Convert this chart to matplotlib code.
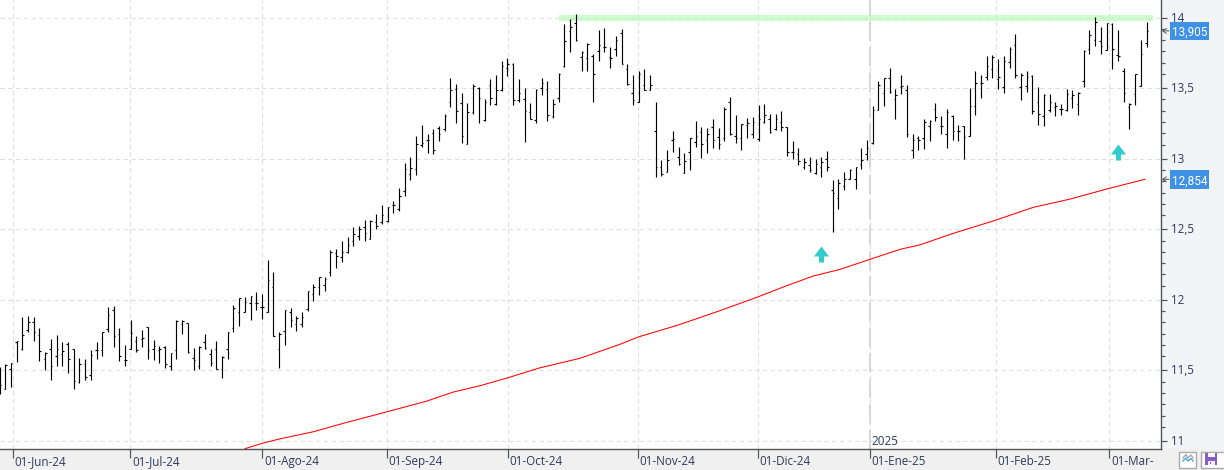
import matplotlib
matplotlib.use("Agg")
import matplotlib.pyplot as plt
from matplotlib.path import Path
from matplotlib.patches import Rectangle
from matplotlib.transforms import ScaledTranslation
import numpy as np

# Daily OHLC prices
highs = [11.524,
    11.545,11.554,11.712,11.877,11.889,11.877,11.802,11.630,11.724,11.748,
    11.701,11.701,11.653,11.590,11.583,11.642,11.705,11.776,11.953,11.960,
    11.802,11.684,11.859,11.743,11.788,11.811,11.719,11.670,11.672,11.627,
    11.859,11.859,11.837,11.660,11.677,11.759,11.653,11.712,11.606,11.776,
    11.965,12.012,12.017,12.031,12.059,12.042,12.285,12.200,11.776,11.925,
    11.943,11.889,11.917,12.065,12.112,12.164,12.160,12.356,12.361,12.420,
    12.448,12.519,12.526,12.569,12.566,12.609,12.675,12.661,12.703,12.796,
    12.973,13.015,13.164,13.242,13.178,13.212,13.235,13.320,13.569,13.526,
    13.462,13.398,13.531,13.505,13.420,13.561,13.590,13.689,13.710,13.680,
    13.561,13.498,13.398,13.491,13.569,13.552,13.420,13.609,13.956,13.992,
    14.022,13.760,13.817,13.743,13.909,13.928,13.793,13.869,13.921,13.673,
    13.590,13.618,13.637,13.595,13.405,12.994,13.065,13.193,13.086,13.037,
    13.150,13.264,13.221,13.216,13.278,13.214,13.368,13.434,13.313,13.249,
    13.285,13.292,13.377,13.384,13.318,13.320,13.335,13.223,13.122,13.077,
    13.008,13.015,12.999,13.015,13.058,12.852,12.859,12.909,12.926,12.944,
    13.077,13.129,13.370,13.547,13.573,13.639,13.491,13.590,13.519,13.176,
    13.160,13.283,13.271,13.396,13.299,13.353,13.306,13.240,13.233,13.498,
    13.618,13.590,13.725,13.736,13.703,13.729,13.793,13.881,13.609,13.618,
    13.590,13.505,13.455,13.460,13.405,13.387,13.491,13.486,13.469,13.772,
    13.909,14.001,13.930,13.963,13.961,13.909,13.642,13.396,13.602,13.838,
    13.966]
lows = [11.335,
    11.370,11.382,11.559,11.642,11.776,11.708,11.566,11.500,11.434,11.535,
    11.531,11.481,11.370,11.411,11.434,11.434,11.583,11.606,11.776,11.665,
    11.566,11.531,11.653,11.630,11.665,11.580,11.571,11.554,11.519,11.505,
    11.580,11.759,11.627,11.505,11.512,11.653,11.531,11.510,11.446,11.580,
    11.771,11.818,11.913,11.859,11.925,11.866,11.913,11.743,11.517,11.684,
    11.811,11.778,11.811,11.918,11.989,12.037,12.060,12.171,12.223,12.266,
    12.330,12.379,12.427,12.415,12.429,12.500,12.538,12.550,12.613,12.628,
    12.739,12.848,12.888,13.082,13.039,13.030,13.124,13.195,13.365,13.252,
    13.110,13.103,13.320,13.252,13.266,13.379,13.379,13.483,13.585,13.379,
    13.403,13.117,13.283,13.252,13.448,13.266,13.287,13.405,13.649,13.755,
    13.833,13.621,13.621,13.401,13.691,13.755,13.642,13.727,13.668,13.519,
    13.377,13.401,13.486,13.486,12.869,12.876,12.904,13.046,12.952,12.897,
    12.923,13.082,13.008,13.037,13.074,13.067,13.122,13.171,13.112,13.060,
    13.145,13.145,13.124,13.252,13.181,13.200,13.195,13.022,12.996,12.954,
    12.928,12.904,12.892,12.869,12.911,12.479,12.642,12.781,12.855,12.784,
    12.926,12.989,13.103,13.344,13.370,13.462,13.278,13.457,13.155,13.008,
    13.065,13.072,13.122,13.264,13.178,13.079,13.131,13.126,13.001,13.160,
    13.313,13.427,13.557,13.569,13.495,13.462,13.642,13.569,13.413,13.472,
    13.318,13.242,13.235,13.330,13.299,13.313,13.337,13.358,13.309,13.505,
    13.741,13.798,13.743,13.769,13.635,13.689,13.405,13.207,13.377,13.514,
    13.788]
opens = [11.394,
    11.370,11.512,11.700,11.653,11.788,11.842,11.752,11.578,11.649,11.606,
    11.618,11.689,11.653,11.418,11.543,11.465,11.646,11.646,11.795,11.925,
    11.759,11.571,11.653,11.712,11.724,11.807,11.653,11.646,11.665,11.535,
    11.646,11.826,11.837,11.590,11.535,11.701,11.618,11.653,11.512,11.649,
    11.802,11.917,11.917,11.976,11.979,11.953,11.917,12.094,11.653,11.783,
    11.913,11.830,11.826,11.937,12.041,12.093,12.105,12.197,12.332,12.301,
    12.342,12.417,12.455,12.519,12.431,12.552,12.550,12.561,12.673,12.644,
    12.770,12.892,12.928,13.098,13.129,13.183,13.219,13.212,13.405,13.495,
    13.396,13.105,13.330,13.500,13.271,13.519,13.389,13.488,13.642,13.673,
    13.417,13.420,13.330,13.275,13.502,13.495,13.304,13.429,13.656,13.902,
    13.963,13.720,13.715,13.725,13.762,13.791,13.720,13.779,13.892,13.637,
    13.467,13.405,13.519,13.488,13.197,12.942,12.909,13.129,13.013,12.900,
    13.044,13.119,13.186,13.129,13.226,13.155,13.148,13.403,13.160,13.148,
    13.240,13.178,13.141,13.259,13.278,13.209,13.261,13.221,13.044,13.030,
    12.942,12.956,12.897,12.942,12.999,12.779,12.722,12.807,12.857,12.859,
    12.959,13.030,13.110,13.346,13.467,13.573,13.424,13.505,13.488,13.065,
    13.148,13.148,13.235,13.353,13.235,13.178,13.301,13.195,13.233,13.162,
    13.370,13.538,13.580,13.635,13.561,13.505,13.682,13.807,13.505,13.517,
    13.585,13.403,13.301,13.344,13.365,13.349,13.344,13.429,13.384,13.552,
    13.774,13.843,13.831,13.772,13.956,13.734,13.618,13.368,13.460,13.517,
    13.822]
closes = [11.394,
    11.540,11.554,11.708,11.752,11.842,11.776,11.635,11.625,11.535,11.653,
    11.637,11.583,11.429,11.543,11.453,11.613,11.646,11.771,11.894,11.745,
    11.604,11.571,11.767,11.642,11.731,11.642,11.670,11.649,11.547,11.625,
    11.854,11.849,11.630,11.576,11.665,11.658,11.554,11.512,11.599,11.776,
    11.943,12.012,11.983,12.031,11.979,11.948,12.144,11.743,11.759,11.925,
    11.861,11.870,11.877,12.065,12.089,12.164,12.148,12.342,12.313,12.337,
    12.389,12.467,12.502,12.472,12.557,12.526,12.604,12.656,12.673,12.739,
    12.928,12.935,13.105,13.112,13.134,13.063,13.176,13.299,13.488,13.335,
    13.164,13.330,13.512,13.431,13.405,13.431,13.488,13.656,13.673,13.413,
    13.465,13.337,13.283,13.488,13.538,13.306,13.389,13.602,13.836,13.935,
    13.838,13.755,13.814,13.602,13.807,13.791,13.715,13.838,13.673,13.528,
    13.417,13.597,13.488,13.519,12.942,12.892,12.992,13.141,12.961,12.985,
    13.148,13.164,13.105,13.178,13.129,13.103,13.353,13.178,13.148,13.247,
    13.254,13.261,13.283,13.306,13.186,13.283,13.221,13.051,13.044,12.985,
    12.978,12.921,12.966,12.980,12.942,12.758,12.829,12.859,12.923,12.942,
    12.994,13.079,13.344,13.519,13.573,13.474,13.453,13.512,13.174,13.134,
    13.129,13.261,13.264,13.294,13.233,13.330,13.197,13.197,13.155,13.370,
    13.535,13.538,13.656,13.720,13.576,13.689,13.774,13.595,13.590,13.580,
    13.335,13.320,13.448,13.403,13.370,13.353,13.455,13.453,13.467,13.765,
    13.878,13.966,13.798,13.961,13.779,13.729,13.467,13.384,13.597,13.741,
    13.905]

# Moving average, sampled along the session index
ma_index = [43.0,46.0,49.15,54.98,60.8,67.85,74.85,79.5,84.2,89.05,94.7,101.7,
            108.7,111.9,118.7,125.7,132.7,137.9,142.6,147.3,152.5,157.8,161.3,
            167.1,174.6,181.1,187.6,194.0,200.7]
ma_values = [10.946,10.984,11.016,11.066,11.132,11.207,11.283,11.347,11.392,
             11.448,11.519,11.586,11.685,11.737,11.819,11.916,12.018,12.100,
             12.169,12.216,12.287,12.358,12.390,12.471,12.565,12.655,12.714,
             12.785,12.854]

# Month starts on the session axis
month_positions = [2.42,22.95,46.08,67.9,89.05,111.93,132.9,152.53,174.56,194.5]
month_labels = ["01-Jun-24","01-Jul-24","01-Ago-24","01-Sep-24","01-Oct-24",
                "01-Nov-24","01-Dic-24","01-Ene-25","01-Feb-25","01-Mar-"]
year_position = 152.53
year_label = "2025"

price_ticks = [11,11.5,12,12.5,13,13.5,14]
price_labels = ["11","11,5","12","12,5","13","13,5","14"]

resistance_level = 14.0
resistance_span = (98.0,202.1)
signal_index = [143.9,195.95]
signal_price = [12.325,13.045]
last_close = 13.905
last_ma = 12.854

PX = 72/100.0   # one pixel in points at 100 dpi
W,H = 1224,470
TEXT = "#2f3a5c"
plt.rcParams["font.family"] = ["Open Sans","DejaVu Sans"]

fig = plt.figure(figsize=(W/100,H/100),dpi=100,facecolor="#F2F4F8")

# Window furniture behind the chart: status strip and the two buttons
ui = fig.add_axes([0,0,1,1],zorder=-1)
ui.set_xlim(0,W); ui.set_ylim(H,0); ui.axis("off")
ui.add_patch(Rectangle((0,449),W,21,fc="#F0F0F0",ec="none"))
ui.add_patch(Rectangle((1178.5,451.5),17,16,fc="white",ec="#ABABAB",lw=1.4*PX))
ui.add_patch(Rectangle((1200.5,451.5),26,16,fc="white",ec="#ABABAB",lw=1.4*PX))
ui.plot([1183,1186,1188,1191,1193],[458,454.5,458,455,458],color="#A8A8A8",lw=1.4*PX)
ui.plot([1183,1186,1188,1191,1193],[461,458,461,458.5,461],color="#4FA3DC",lw=1.4*PX)
ui.add_patch(Rectangle((1205,453),12.3,12.3,fc="#8A5CC8",ec="none"))
ui.add_patch(Rectangle((1207.5,453),7.5,4,fc="white",ec="none"))
ui.add_patch(Rectangle((1208,461),6.5,4.3,fc="#F4EFFA",ec="none"))
ui.add_patch(Rectangle((1209.5,462.3),1.2,1.2,fc="#8A5CC8",ec="none"))

ax = fig.add_axes([0,21/H,1161/W,449/H],facecolor="white")
index = np.arange(len(highs))
assert len(highs)==len(lows)==len(opens)==len(closes)
ax.set_xlim(0.0876,203.53)
ax.set_ylim(10.944,14.124)

# Dashed grid under the bars
ax.set_axisbelow(True)
ax.set_xticks(month_positions)
ax.set_xticklabels(month_labels)
ax.set_yticks(price_ticks)
ax.set_yticklabels(price_labels)
ax.grid(True,color="#DEDEDE",lw=1.1*PX,ls=(0,(4,3)))
ax.axvline(year_position,color="#CFCFCF",lw=1.5*PX,ls=(0,(13,4)),zorder=0.7)

# Resistance band
ax.hlines(resistance_level,*resistance_span,color="#CCFFCC",lw=6.3*PX,zorder=0.4)

# OHLC bars
tick_half = 0.27
bar_lw = 1.15*PX
ax.vlines(index,lows,highs,color="black",lw=bar_lw,zorder=3)
ax.hlines(opens,index-tick_half,index,color="black",lw=bar_lw,zorder=3)
ax.hlines(closes,index,index+tick_half,color="black",lw=bar_lw,zorder=3)

# Moving average
ax.plot(ma_index,ma_values,color="#FF0000",lw=1.05*PX,zorder=2.5)

# Buy signals
arrow = Path([(0,1),(0.94,-0.25),(0.31,-0.25),(0.31,-1),(-0.31,-1),(-0.31,-0.25),(-0.94,-0.25),(0,1)],
             closed=True)
ax.plot(signal_index,signal_price,ls="none",marker=arrow,ms=16*PX,mfc="#33CCCC",mec="none",zorder=4)

# Axes frame and ticks
for s in ("top","left"):
    ax.spines[s].set_visible(False)
for s in ("right","bottom"):
    ax.spines[s].set_color("#555555")
    ax.spines[s].set_linewidth(1.4*PX)
ax.yaxis.tick_right()
ax.set_yticks([p-0.08*k for p in price_ticks for k in range(1,6) if p-0.08*k>10.95],minor=True)
ax.tick_params(axis="y",which="major",length=6*PX,width=1.2*PX,color="#555555",
               pad=4*PX,labelsize=8.4,labelcolor=TEXT)
ax.tick_params(axis="y",which="minor",length=4*PX,width=1.2*PX,color="#555555")
ax.tick_params(axis="x",which="major",length=9*PX,width=1.2*PX,color="#555555",
               pad=-3*PX,labelsize=8.4,labelcolor=TEXT)
shift = ScaledTranslation(1.5/100,0,fig.dpi_scale_trans)
for lab in ax.get_xticklabels():
    lab.set_horizontalalignment("left")
    lab.set_transform(lab.get_transform()+shift)
lift = ScaledTranslation(0,1/100,fig.dpi_scale_trans)
for lab in ax.get_yticklabels():
    lab.set_transform(lab.get_transform()+lift)

ax.annotate(year_label,(year_position,0),xycoords=("data","axes fraction"),
            xytext=(1.5*PX,1*PX),textcoords="offset points",ha="left",va="bottom",
            fontsize=8.4,color=TEXT)

# Last-value flags on the price scale
ytrans = ax.get_yaxis_transform()
flag_h = 18.7/141.2
for value in (last_close,last_ma):
    ax.add_patch(Rectangle((1170/1161,value-flag_h/2),39/1161,flag_h,transform=ytrans,
                           fc="#3F91E6",ec="none",clip_on=False,zorder=6))
    ax.text(1189.5/1161,value,f"{value:.3f}".replace(".",","),transform=ytrans,ha="center",
            va="center_baseline",color="white",fontsize=8.5,family="Roboto",clip_on=False,zorder=7)
    ax.annotate("",xy=(1162/1161,value),xytext=(1169/1161,value),xycoords=ytrans,textcoords=ytrans,
                annotation_clip=False,
                arrowprops=dict(arrowstyle="->,head_length=0.25,head_width=0.18",color="#555555",
                                lw=0.7,shrinkA=0,shrinkB=0))

fig.savefig("out.png",dpi=100,facecolor=fig.get_facecolor())
